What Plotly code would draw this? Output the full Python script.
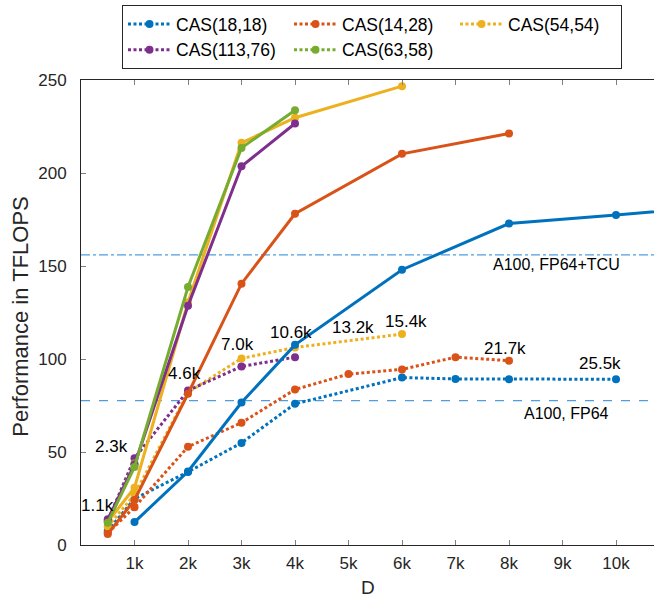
import plotly.graph_objects as go

# ---------------- data ----------------
names = ["CAS(18,18)", "CAS(14,28)", "CAS(54,54)", "CAS(113,76)", "CAS(63,58)"]
colors = ["#0072BD", "#D95319", "#EDB120", "#7E2F8E", "#77AC30"]

# dotted series
d18_x = [500, 1000, 2000, 3000, 4000, 6000, 7000, 8000, 10000]
d18_y = [7.5, 24.9, 39.3, 54.9, 75.9, 90.0, 89.3, 89.1, 89.1]
d14_x = [500, 1000, 2000, 3000, 4000, 5000, 6000, 7000, 8000]
d14_y = [6.5, 20.3, 52.8, 65.7, 83.6, 91.9, 94.4, 101.0, 99.1]
d54_x = [500, 1000, 2000, 3000, 4000, 6000]
d54_y = [10.0, 27.0, 82.0, 100.3, 106.2, 113.4]
d113_x = [500, 1000, 2000, 3000, 4000]
d113_y = [13.0, 46.7, 83.0, 96.0, 101.0]
d63_x = [500, 1000]
d63_y = [12.5, 44.0]

# solid series
s18_x = [1000, 2000, 3000, 4000, 6000, 8000, 10000, 12000]
s18_y = [12.3, 39.5, 76.6, 107.6, 148.0, 172.8, 177.4, 182.5]
s14_x = [500, 1000, 2000, 3000, 4000, 6000, 8000]
s14_y = [5.9, 24.2, 81.3, 140.5, 178.1, 210.3, 221.2]
s54_x = [500, 1000, 2000, 3000, 4000, 6000]
s54_y = [12.5, 30.8, 130.5, 216.2, 229.7, 246.7]
s113_x = [500, 1000, 2000, 3000, 4000]
s113_y = [13.8, 43.1, 128.6, 203.6, 226.6]
s63_x = [500, 1000, 2000, 3000, 4000]
s63_y = [12.0, 42.0, 138.7, 213.5, 233.7]

dotted = [(d18_x, d18_y), (d14_x, d14_y), (d54_x, d54_y), (d113_x, d113_y), (d63_x, d63_y)]
solid = [(s18_x, s18_y), (s14_x, s14_y), (s54_x, s54_y), (s113_x, s113_y), (s63_x, s63_y)]

# labels of D sizes
lab_text = ["1.1k", "2.3k", "4.6k", "7.0k", "10.6k", "13.2k", "15.4k", "21.7k", "25.5k"]
lab_x = [314, 576, 1935, 2931, 3929, 5080, 6079, 7916, 9704]
lab_y = [21.2, 52.9, 92.0, 107.6, 114.5, 117.2, 119.9, 105.9, 97.8]

# reference peaks
ref_vals = [156, 77.6]
ref_text = ["A100, FP64+TCU", "A100, FP64"]
ref_lab_x = [8888, 9075]
ref_lab_y = [150.7, 70.9]
ref_dash = ["dashdot", "dash"]

xtick_vals = [1000 * i for i in range(1, 11)]
xtick_text = [f"{i}k" for i in range(1, 11)]
ytick_vals = [0, 50, 100, 150, 200, 250]

FONT = "Liberation Sans, Arial, Helvetica, sans-serif"
TXT = "#262626"
REFC = "#4D9DE0"

fig = go.Figure()

# reference lines
for v, dsh in zip(ref_vals, ref_dash):
    fig.add_trace(go.Scatter(x=[0, 11000], y=[v, v], mode="lines",
                             line=dict(color=REFC, width=1.3, dash=dsh),
                             showlegend=False, hoverinfo="skip"))

for (xs, ys), n, c in zip(dotted, names, colors):
    fig.add_trace(go.Scatter(x=xs, y=ys, mode="lines+markers", name=n,
                             line=dict(color=c, width=3, dash="3px,2.5px"),
                             marker=dict(color=c, size=8), cliponaxis=True))
for (xs, ys), n, c in zip(solid, names, colors):
    fig.add_trace(go.Scatter(x=xs, y=ys, mode="lines+markers", name=n,
                             line=dict(color=c, width=3),
                             marker=dict(color=c, size=8), showlegend=False,
                             cliponaxis=True))

annots = []
for t, x, y in zip(lab_text, lab_x, lab_y):
    annots.append(dict(x=x, y=y, text=t, showarrow=False, xref="x", yref="y",
                       font=dict(family=FONT, size=17, color="#000000")))
for t, x, y in zip(ref_text, ref_lab_x, ref_lab_y):
    annots.append(dict(x=x, y=y, text=t, showarrow=False, xref="x", yref="y",
                       font=dict(family=FONT, size=16, color="#000000")))

# axis titles
annots.append(dict(x=0.5, y=-0.0923, xref="paper", yref="paper", text="D",
                   showarrow=False, yanchor="middle",
                   font=dict(family=FONT, size=19, color=TXT)))
annots.append(dict(x=-0.1055, y=0.49, xref="paper", yref="paper",
                   text="Performance in TFLOPS", textangle=-90, showarrow=False,
                   xanchor="center", yanchor="middle",
                   font=dict(family=FONT, size=22, color=TXT)))

fig.update_layout(
    width=654, height=597,
    margin=dict(l=81, r=0, t=80, b=52),
    paper_bgcolor="white", plot_bgcolor="white",
    font=dict(family=FONT, size=17, color=TXT),
    showlegend=True,
    legend=dict(orientation="h", x=(122 - 81) / 573, y=1 + (80 - 5) / 465,
                xanchor="left", yanchor="top", bordercolor=TXT, borderwidth=1,
                bgcolor="white", font=dict(family=FONT, size=17.5, color="#000000"),
                itemwidth=43,
                entrywidth=108, entrywidthmode="pixels", tracegroupgap=0),
    annotations=annots,
    xaxis=dict(range=[0, 10710], tickvals=xtick_vals, ticktext=xtick_text,
               ticks="inside", ticklen=5, tickcolor="#7f7f7f", tickwidth=1,
               showline=True, linecolor=TXT, linewidth=1, mirror="ticks",
               showgrid=False, zeroline=False, ticklabelstandoff=3,
               tickfont=dict(family=FONT, size=17, color=TXT)),
    yaxis=dict(range=[0, 250], tickvals=ytick_vals, ticks="inside", ticklen=5,
               tickcolor="#7f7f7f", tickwidth=1, showline=True, linecolor=TXT,
               linewidth=1, showgrid=False, zeroline=False,
               ticklabelstandoff=10,
               tickfont=dict(family=FONT, size=17, color=TXT)),
    yaxis2=dict(range=[0, 250], tickvals=ytick_vals, ticks="inside", ticklen=5,
                tickcolor="#7f7f7f", overlaying="y", side="right",
                showticklabels=False, showline=False, showgrid=False,
                zeroline=False),
)

fig.write_html("out.html")
